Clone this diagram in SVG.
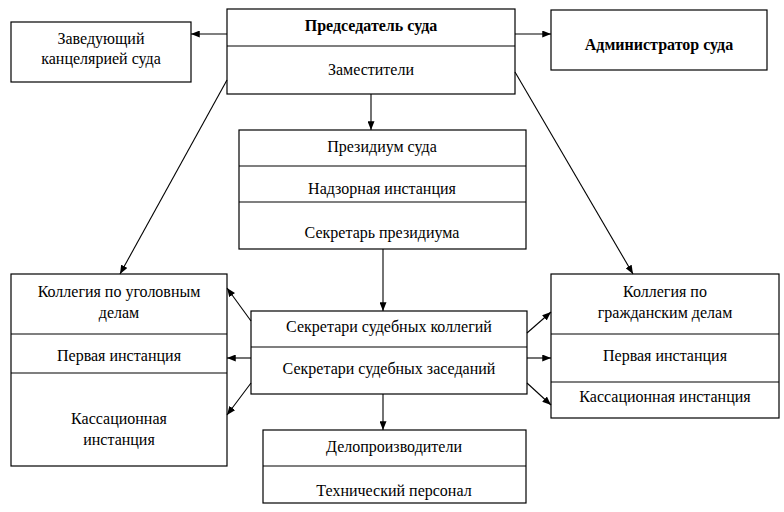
<svg xmlns="http://www.w3.org/2000/svg" width="784" height="512" viewBox="0 0 784 512">
<defs>
<marker id="ah" viewBox="0 0 10 8" refX="10" refY="4" markerWidth="9" markerHeight="7" markerUnits="userSpaceOnUse" orient="auto">
<path d="M0,0 L10,4 L0,8 z" fill="#000"/>
</marker>
</defs>
<rect width="784" height="512" fill="#fff"/>
<g fill="#fff" stroke="#000" stroke-width="1.2">
<g id="zaveduyushchiy">
<rect x="11" y="22" width="180" height="60"/>
</g>
<g id="predsedatel">
<rect x="227" y="9" width="288" height="85"/>
<line x1="227" y1="46" x2="515" y2="46"/>
</g>
<g id="administrator">
<rect x="551" y="10" width="216" height="60"/>
</g>
<g id="prezidium">
<rect x="239" y="130" width="287" height="119"/>
<line x1="239" y1="166" x2="526" y2="166"/>
<line x1="239" y1="202" x2="526" y2="202"/>
</g>
<g id="ugolovnye">
<rect x="11" y="274" width="216" height="192"/>
<line x1="11" y1="334" x2="227" y2="334"/>
<line x1="11" y1="373" x2="227" y2="373"/>
</g>
<g id="sekretari">
<rect x="251" y="311" width="276" height="83"/>
<line x1="251" y1="347" x2="527" y2="347"/>
</g>
<g id="grazhdanskie">
<rect x="551" y="274" width="228" height="144"/>
<line x1="551" y1="334" x2="779" y2="334"/>
<line x1="551" y1="382" x2="779" y2="382"/>
</g>
<g id="deloproizvoditeli">
<rect x="263" y="430" width="263" height="73"/>
<line x1="263" y1="466" x2="526" y2="466"/>
</g>
</g>
<g id="labels" fill="#000" text-anchor="middle">
<text font-family="Liberation Serif" font-size="16" x="101" y="44">Заведующий</text>
<text font-family="Liberation Serif" font-size="16" x="101" y="64">канцелярией суда</text>
<text font-family="Liberation Serif" font-size="16" font-weight="bold" x="371" y="31">Председатель суда</text>
<text font-family="Liberation Serif" font-size="16" x="371" y="75">Заместители</text>
<text font-family="Liberation Serif" font-size="16" font-weight="bold" x="659" y="50">Администратор суда</text>
<text font-family="Liberation Serif" font-size="16" x="382" y="152">Президиум суда</text>
<text font-family="Liberation Serif" font-size="16" x="382" y="194">Надзорная инстанция</text>
<text font-family="Liberation Serif" font-size="16" x="382" y="238">Секретарь президиума</text>
<text font-family="Liberation Serif" font-size="16" x="119" y="297">Коллегия по уголовным</text>
<text font-family="Liberation Serif" font-size="16" x="119" y="318">делам</text>
<text font-family="Liberation Serif" font-size="16" x="119" y="361">Первая инстанция</text>
<text font-family="Liberation Serif" font-size="16" x="119" y="424">Кассационная</text>
<text font-family="Liberation Serif" font-size="16" x="119" y="445">инстанция</text>
<text font-family="Liberation Serif" font-size="16" x="389" y="332">Секретари судебных коллегий</text>
<text font-family="Liberation Serif" font-size="16" x="389" y="374">Секретари судебных заседаний</text>
<text font-family="Liberation Serif" font-size="16" x="665" y="297">Коллегия по</text>
<text font-family="Liberation Serif" font-size="16" x="665" y="318">гражданским делам</text>
<text font-family="Liberation Serif" font-size="16" x="665" y="361">Первая инстанция</text>
<text font-family="Liberation Serif" font-size="16" x="665" y="402">Кассационная инстанция</text>
<text font-family="Liberation Serif" font-size="16" x="394" y="452">Делопроизводители</text>
<text font-family="Liberation Serif" font-size="16" x="394" y="496">Технический персонал</text>
</g>
<g id="connectors" stroke="#000" stroke-width="1.1" marker-end="url(#ah)">
<line x1="227" y1="34" x2="191" y2="34"/>
<line x1="515" y1="34" x2="551" y2="34"/>
<line x1="371" y1="94" x2="371" y2="130"/>
<line x1="227" y1="80" x2="120" y2="274"/>
<line x1="515" y1="72" x2="633" y2="274"/>
<line x1="383" y1="249" x2="383" y2="311"/>
<line x1="251" y1="321" x2="227" y2="288"/>
<line x1="251" y1="358" x2="227" y2="358"/>
<line x1="251" y1="383" x2="227" y2="415"/>
<line x1="527" y1="333" x2="551" y2="312"/>
<line x1="527" y1="358" x2="551" y2="358"/>
<line x1="527" y1="383" x2="551" y2="405"/>
<line x1="383" y1="394" x2="383" y2="430"/>
</g>
</svg>
